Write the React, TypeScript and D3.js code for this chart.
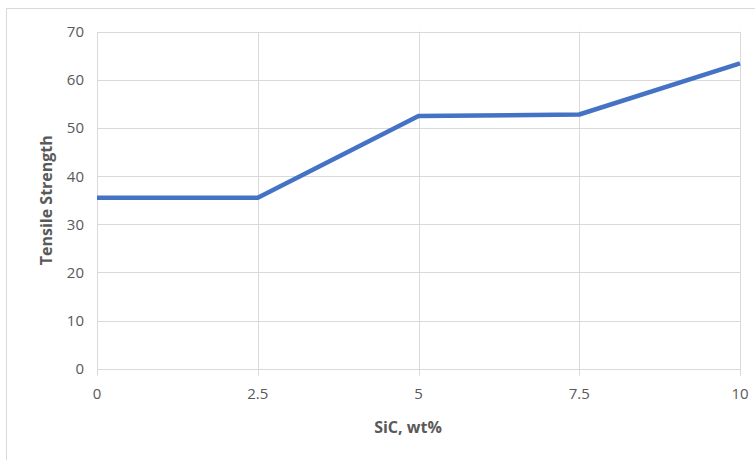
import React from "react";
import * as d3 from "d3";

// SiC content (wt%) and measured tensile strength
const sicContent: number[] = [0, 2.5, 5, 7.5, 10];
const tensileStrength: number[] = [35.5, 35.5, 52.5, 52.8, 63.4];

const xTicks: number[] = [0, 2.5, 5, 7.5, 10];
const yTicks: number[] = [0, 10, 20, 30, 40, 50, 60, 70];

const xTitle = "SiC, wt%";
const yTitle = "Tensile Strength";

const W = 755;
const H = 460;
const plot = { left: 97, right: 740, top: 31.7, bottom: 368.7 };

const FONT = "'Open Sans', sans-serif";
const TEXT = "#595959";
const GRID = "#d9d9d9";
const LINE = "#4472C4";

export default function App() {
  const x = d3.scaleLinear().domain([0, 10]).range([plot.left, plot.right]);
  const y = d3.scaleLinear().domain([0, 70]).range([plot.bottom, plot.top]);

  const pts: [number, number][] = sicContent.map((s, i) => [s, tensileStrength[i]]);
  const path = d3
    .line<[number, number]>()
    .x((d) => x(d[0]))
    .y((d) => y(d[1]))(pts) as string;

  return (
    <svg
      width={W}
      height={H}
      style={{ position: "fixed", left: 0, top: 0, background: "#fff" }}
      fontFamily={FONT}
    >
      <rect x={0} y={0} width={W} height={H} fill="#fff" />
      {/* chart area frame */}
      <rect x={6.5} y={8.5} width={W} height={H} fill="none" stroke={GRID} strokeWidth={1} />

      {/* horizontal gridlines */}
      {yTicks.map((t) => (
        <line
          key={"h" + t}
          x1={plot.left}
          x2={plot.right}
          y1={Math.round(y(t)) + 0.5}
          y2={Math.round(y(t)) + 0.5}
          stroke={GRID}
          strokeWidth={1}
        />
      ))}
      {/* vertical gridlines with tick extensions below the axis */}
      {xTicks.map((t) => (
        <line
          key={"v" + t}
          x1={Math.round(x(t)) + 0.5}
          x2={Math.round(x(t)) + 0.5}
          y1={plot.top}
          y2={plot.bottom + 7}
          stroke={GRID}
          strokeWidth={1}
        />
      ))}

      {/* y tick labels */}
      {yTicks.map((t) => (
        <text
          key={"yl" + t}
          x={84}
          y={y(t)}
          dy="0.36em"
          textAnchor="end"
          fontSize={15}
          fill={TEXT}
        >
          {t}
        </text>
      ))}
      {/* x tick labels */}
      {xTicks.map((t) => (
        <text
          key={"xl" + t}
          x={x(t)}
          y={399}
          textAnchor="middle"
          fontSize={15}
          fill={TEXT}
        >
          {t}
        </text>
      ))}

      {/* data line */}
      <path d={path} fill="none" stroke={LINE} strokeWidth={4.5} strokeLinejoin="round" />

      {/* axis titles */}
      <text
        x={408}
        y={433}
        textAnchor="middle"
        fontSize={16}
        fontWeight="bold"
        fill={TEXT}
      >
        {xTitle}
      </text>
      <text
        transform={`translate(52,${(plot.top + plot.bottom) / 2}) rotate(-90)`}
        textAnchor="middle"
        fontSize={16}
        fontWeight="bold"
        fill={TEXT}
      >
        {yTitle}
      </text>
    </svg>
  );
}
